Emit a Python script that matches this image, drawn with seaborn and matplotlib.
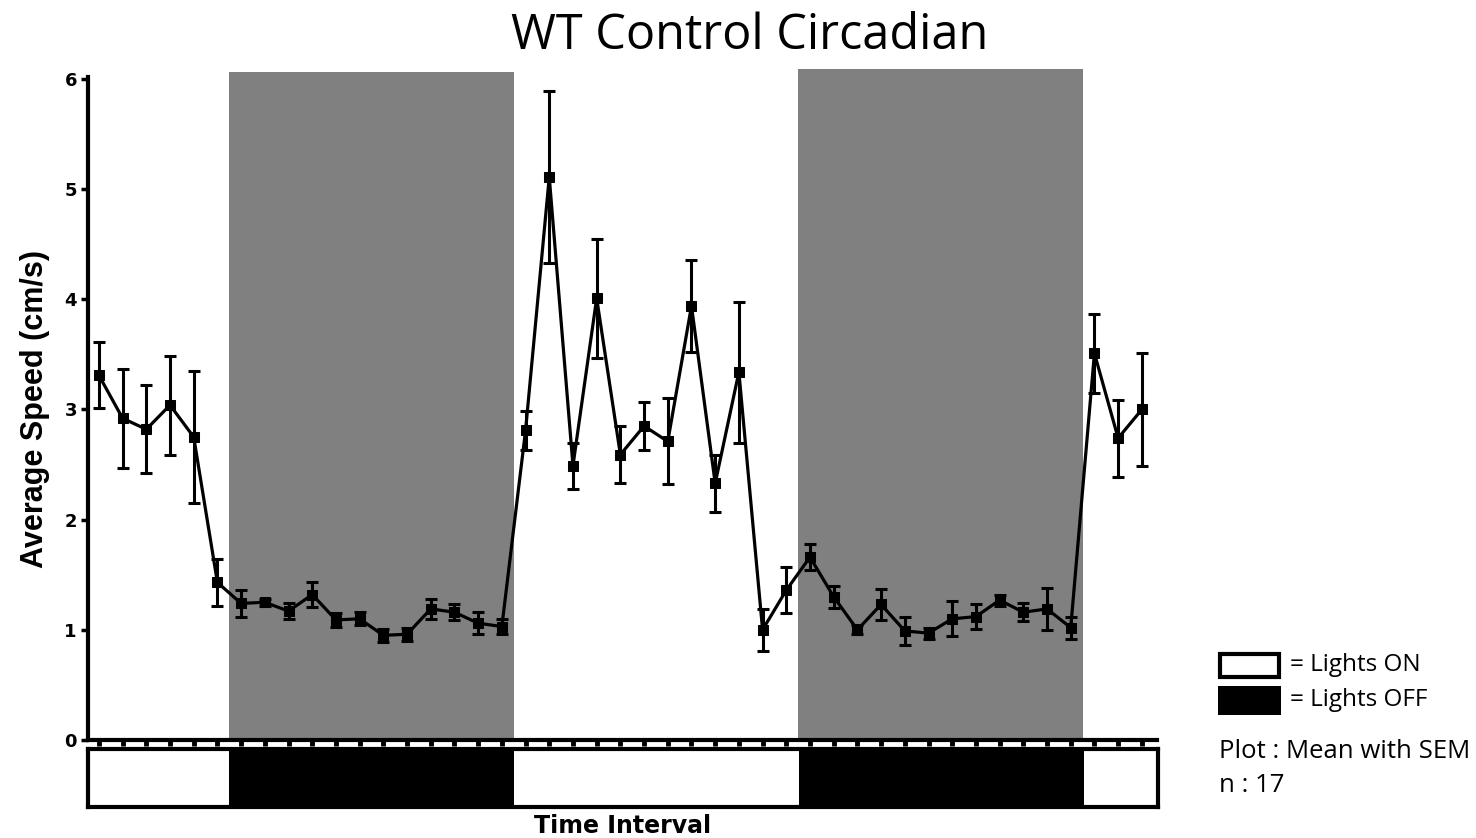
import numpy as np
import pandas as pd
import matplotlib
matplotlib.use("Agg")
import matplotlib.pyplot as plt
import seaborn as sns
from matplotlib.patches import Rectangle

# ---- data ----
time_index = list(range(45))
mean_speed = [3.31, 2.92, 2.82, 3.04, 2.75, 1.43,
              1.24, 1.25, 1.17, 1.32, 1.09, 1.10, 0.95, 0.96, 1.19, 1.16, 1.06, 1.03,
              2.81, 5.11, 2.49, 4.01, 2.59, 2.85, 2.71, 3.94, 2.33, 3.34, 1.00, 1.36,
              1.66, 1.30, 1.00, 1.23, 0.99, 0.97, 1.10, 1.12, 1.27, 1.16, 1.19, 1.02,
              3.51, 2.74, 3.00]
sem_speed = [0.30, 0.45, 0.40, 0.45, 0.60, 0.21,
             0.12, 0.03, 0.07, 0.11, 0.06, 0.06, 0.06, 0.06, 0.09, 0.07, 0.10, 0.07,
             0.18, 0.78, 0.21, 0.54, 0.26, 0.22, 0.39, 0.42, 0.26, 0.64, 0.19, 0.21,
             0.12, 0.10, 0.04, 0.14, 0.13, 0.05, 0.16, 0.11, 0.05, 0.08, 0.19, 0.10,
             0.36, 0.35, 0.51]
dark_starts = [5.5, 29.5]
dark_ends = [17.5, 41.5]
shade_tops = [6.06, 6.09]
y_ticks = [0, 1, 2, 3, 4, 5, 6]

df = pd.DataFrame({"t": time_index, "speed": mean_speed, "sem": sem_speed})

sns.set_theme(style="white")
plt.rcParams["font.family"] = ["Liberation Sans", "DejaVu Sans"]
plt.rcParams["text.color"] = "black"
plt.rcParams["axes.labelcolor"] = "black"
plt.rcParams["ytick.color"] = "black"
plt.rcParams["xtick.color"] = "black"

W, H = 1476, 838
fig = plt.figure(figsize=(W / 100, H / 100), dpi=100)

def fx(px):
    return px / W

def fy(py):
    return 1 - py / H

left_px, right_px = 88, 1157
ax = fig.add_axes([fx(left_px), fy(740), fx(right_px - left_px), (740 - 77) / H])
ax.set_xlim(-0.46, 44.64)
ax.set_ylim(0, 6.018)

# grey dark-phase shading
for s, e, top in zip(dark_starts, dark_ends, shade_tops):
    ax.add_patch(Rectangle((s, 0), e - s, top, facecolor="#808080",
                           edgecolor="none", clip_on=False, zorder=0))

ax.errorbar(df["t"], df["speed"], yerr=df["sem"], fmt="none", ecolor="black",
            elinewidth=2.2, capsize=4.5, capthick=2.2, zorder=3)
sns.lineplot(data=df, x="t", y="speed", ax=ax, color="black", linewidth=2.3,
             marker="s", markersize=6.5, markeredgecolor="black", zorder=4)

ax.set_xlabel("")
ax.set_ylabel("Average Speed (cm/s)", fontsize=22, fontweight="bold", labelpad=10)
ax.set_yticks(y_ticks)
ax.set_yticklabels([str(v) for v in y_ticks], fontsize=13, fontweight="bold",
                   family=["DejaVu Sans"])
ax.set_xticks(time_index)
ax.set_xticklabels([])
ax.tick_params(axis="y", direction="out", length=5, width=2.5, color="black", pad=3, left=True)
ax.tick_params(axis="x", direction="out", length=4, width=3.5, color="black", bottom=True)
for side in ["top", "right"]:
    ax.spines[side].set_visible(False)
for side in ["left", "bottom"]:
    ax.spines[side].set_linewidth(3)
    ax.spines[side].set_color("black")
ax.patch.set_alpha(0)

# light/dark bar
bx = fig.add_axes([fx(left_px), fy(807), fx(1158 - left_px), (807 - 749) / H])
bx.set_xlim(ax.get_xlim())
bx.set_ylim(0, 1)
for s, e in zip(dark_starts, dark_ends):
    bx.axvspan(s, e, color="black", lw=0)
bx.set_xticks([])
bx.set_yticks([])
for sp in bx.spines.values():
    sp.set_linewidth(3)
    sp.set_color("black")
    sp.set_visible(True)
bx.set_xlabel("Time Interval", fontsize=17, fontweight="bold", labelpad=5,
              family=["DejaVu Sans"])

# title
fig.text(fx(750), fy(36), "WT Control Circadian", ha="center", va="center",
         fontsize=35, color="black", family=["Open Sans", "DejaVu Sans"])

# legend
fig.patches.append(Rectangle((fx(1220), fy(677)), fx(59), 23 / H, transform=fig.transFigure,
                             facecolor="white", edgecolor="black", linewidth=3))
fig.patches.append(Rectangle((fx(1218), fy(715)), fx(63), 29 / H, transform=fig.transFigure,
                             facecolor="black", edgecolor="black", linewidth=0))
fig.text(fx(1290), fy(665), "= Lights ON", ha="left", va="center", fontsize=17.5,
         family=["Open Sans", "DejaVu Sans"])
fig.text(fx(1290), fy(700), "= Lights OFF", ha="left", va="center", fontsize=17.5,
         family=["Open Sans", "DejaVu Sans"])
fig.text(fx(1219), fy(751), "Plot : Mean with SEM", ha="left", va="center", fontsize=18.5,
         family=["Open Sans", "DejaVu Sans"])
fig.text(fx(1219), fy(785), "n : 17", ha="left", va="center", fontsize=18.5,
         family=["Open Sans", "DejaVu Sans"])

fig.savefig("out.png", dpi=100)
